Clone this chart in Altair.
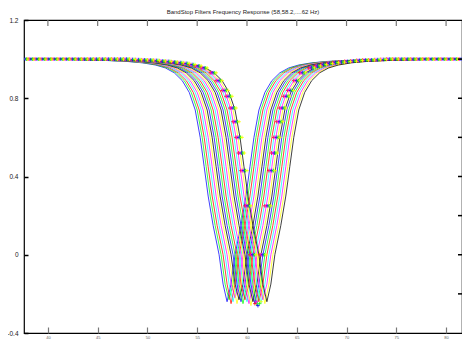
import altair as alt
import pandas as pd

TITLE = "BandStop Filters Frequency Response (58,58.2,....62 Hz)"

# notch centre frequencies (Hz) of the 21 filters
centers = [58.0, 58.2, 58.4, 58.6, 58.8, 59.0, 59.2, 59.4, 59.6, 59.8, 60.0,
           60.2, 60.4, 60.6, 60.8, 61.0, 61.2, 61.4, 61.6, 61.8, 62.0]
# notch depths
bottoms = [-0.24, -0.23, -0.25, -0.24, -0.22, -0.25, -0.23, -0.24, -0.25, -0.23, -0.24,
           -0.25, -0.26, -0.24, -0.25, -0.26, -0.24, -0.25, -0.23, -0.25, -0.24]
cycle = ["#0000FF", "#00FF00", "#FF0000", "#00FFFF", "#FF00FF", "#FFFF00", "#000000"]

# notch profile: offset from centre (Hz) -> response
shape_off = [-24, -18, -15, -12.5, -10, -8.5, -7.2, -6.2, -5.3, -4.5, -3.8, -3.2, -2.7,
             -2.3, -1.9, -1.4, -0.8, -0.4, 0.0, 0.4, 0.8, 1.4, 1.9, 2.3, 2.7, 3.2,
             3.8, 4.5, 5.3, 6.2, 7.2, 8.5, 10, 12.5, 15, 18, 24]
shape_val = [1.0, 0.999, 0.997, 0.994, 0.988, 0.981, 0.97, 0.955, 0.93, 0.89, 0.83,
             0.74, 0.6, 0.45, 0.3, 0.15, 0.0, -0.15, None, -0.15, 0.0, 0.15, 0.3, 0.45,
             0.6, 0.74, 0.83, 0.89, 0.93, 0.955, 0.97, 0.981, 0.988, 0.994, 0.997,
             0.999, 1.0]

# narrower notches drawn with '+' markers
mk_centers = [60.8, 60.95, 61.1, 61.25, 61.4]
mk_colors = ["#FF0000", "#FF00FF", "#0000FF", "#00FF00", "#FFFF00"]
mk_bottoms = [-0.25, -0.24, -0.26, -0.25, -0.24]
mk_steep_off = [-4.5, -3.9, -3.3, -2.9, -2.5, -2.2, -1.9, -1.66, -1.4, -1.0, -0.5, 0.0,
                0.5, 1.0, 1.4, 1.66, 1.9, 2.2, 2.5, 2.9, 3.3, 3.9, 4.5]
mk_steep_val = [0.93, 0.89, 0.84, 0.81, 0.75, 0.68, 0.6, 0.52, 0.43, 0.25, 0.0, None,
                0.0, 0.25, 0.43, 0.52, 0.6, 0.68, 0.75, 0.81, 0.84, 0.89, 0.93]
mk_flat_off = [-23.4, -22.8, -22.2, -21.6, -21.0, -20.4, -19.8, -19.2, -18.6, -18.0,
               -17.4, -16.8, -16.2, -15.6, -15.0, -14.4, -13.8, -13.2, -12.6, -12.0,
               -11.4, -10.8, -10.2, -9.6, -9.0, -8.4, -7.8, -7.2, -6.6, -6.0, -5.4,
               5.4, 6.0, 6.6, 7.2, 7.8, 8.4, 9.0, 9.6, 10.2, 10.8, 11.4, 12.0, 12.6,
               13.2, 13.8, 14.4, 15.0, 15.6, 16.2, 16.8, 17.4, 18.0, 18.6, 19.2, 19.8,
               20.4, 21.0, 21.6, 22.2]
mk_flat_val = [1.0] * 18 + [0.998, 0.997, 0.996, 0.995, 0.993, 0.99, 0.988, 0.985,
               0.982, 0.978, 0.972, 0.965, 0.955,
               0.955, 0.965, 0.972, 0.978, 0.982, 0.985, 0.988, 0.99, 0.993, 0.995,
               0.996, 0.997, 0.998] + [1.0] * 16

xticks = [40, 45, 50, 55, 60, 65, 70, 75, 80]
yticks = [-0.4, -0.2, 0.0, 0.2, 0.4, 0.6, 0.8, 1.0, 1.2]

rows = []
names = []
cols = []
for i, c in enumerate(centers):
    name = f"f{i:02d}"
    names.append(name)
    cols.append(cycle[i % len(cycle)])
    for k, (o, v) in enumerate(zip(shape_off, shape_val)):
        rows.append({"series": name, "freq": c + o, "val": bottoms[i] if v is None else v, "k": k})
df = pd.DataFrame(rows)

mrows = []
mnames = []
for j, c in enumerate(mk_centers):
    name = f"m{j}"
    mnames.append(name)
    for o, v in zip(mk_steep_off, mk_steep_val):
        mrows.append({"series": name, "freq": c + o, "val": mk_bottoms[j] if v is None else v})
    for o, v in zip(mk_flat_off, mk_flat_val):
        mrows.append({"series": name, "freq": c + o, "val": v})
mdf = pd.DataFrame(mrows)

W, H = 438, 313
xs = alt.Scale(domain=[37.6, 81.6], nice=False, zero=False)
ys = alt.Scale(domain=[-0.4, 1.2], nice=False, zero=False)

lines = alt.Chart(df).mark_line(strokeWidth=0.75, clip=True).encode(
    x=alt.X("freq:Q", scale=xs, axis=alt.Axis(values=xticks, labelFontSize=4, tickSize=6,
            tickColor="#777777", tickWidth=1.2, offset=-6,
            grid=False, domain=False, labelPadding=2, title=None, labelColor="#666666",
            labelFont="Liberation Sans", format="d", labelOverlap=False)),
    y=alt.Y("val:Q", scale=ys, axis=alt.Axis(values=yticks, labelFontSize=6.5, tickSize=4,
            tickColor="black", tickWidth=1.5, offset=-4,
            grid=False, domain=False, labelPadding=6, title=None, labelColor="#222222",
            labelFont="Liberation Sans", labelOverlap=False, labelBound=False,
            labelExpr="replace(replace(format(datum.value, '.1f'), '\u2212', '-'), '.0', '')")),
    color=alt.Color("series:N", scale=alt.Scale(domain=names + mnames, range=cols + mk_colors), legend=None),
    order=alt.Order("k:Q"),
)

marks = alt.Chart(mdf).mark_point(shape="M-1,0L1,0M0,-1L0,1", filled=False, size=14,
                                  strokeWidth=0.8, clip=True, opacity=1).encode(
    x=alt.X("freq:Q", scale=xs),
    y=alt.Y("val:Q", scale=ys),
    color=alt.Color("series:N", legend=None),
)

ydf = pd.DataFrame({"val": yticks[1:-1]})
xdf = pd.DataFrame({"freq": xticks})
yr = alt.Chart(ydf).mark_rule(color="black", strokeWidth=1.5).encode(
    y=alt.Y("val:Q", scale=ys), x=alt.value(W - 4), x2=alt.value(W))
xt = alt.Chart(xdf).mark_rule(color="#777777", strokeWidth=1.2).encode(
    x=alt.X("freq:Q", scale=xs), y=alt.value(0), y2=alt.value(6))

chart = alt.layer(lines, marks, yr, xt).properties(
    width=W, height=H,
    title=alt.Title(TITLE, fontSize=6, fontWeight="normal", font="Liberation Sans",
                    color="#222222", offset=2),
    autosize=alt.AutoSizeParams(type="none"),
    padding={"left": 16, "top": 12, "right": 0, "bottom": 6},
).configure(background="white").configure_view(stroke="black", strokeWidth=1.2)

chart.save("out.html", embed_options={"renderer": "svg", "actions": False})
